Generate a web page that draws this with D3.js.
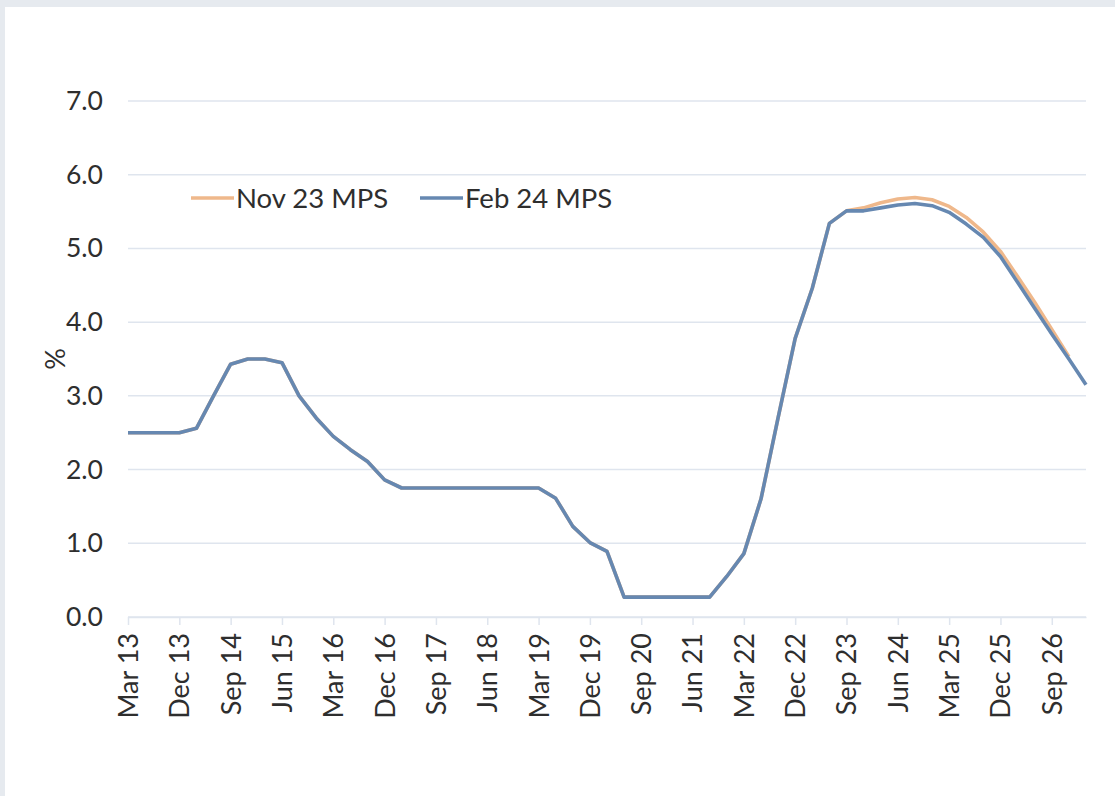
<!DOCTYPE html>
<html>
<head>
<meta charset="utf-8">
<script src="https://cdn.jsdelivr.net/npm/d3@7"></script>
<style>
  body { margin: 0; background: #e6eaef; }
  #chart { position: absolute; left: 5px; top: 7px; width: 1110px; height: 789px; background: #fff; }
  text { font-family: Lato, "Open Sans", sans-serif; fill: #2e2e2e; }
</style>
</head>
<body>
<div id="chart"></div>
<script>
// quarters on the category axis
var quarters = ["Mar 13","Jun 13","Sep 13","Dec 13","Mar 14","Jun 14","Sep 14","Dec 14",
  "Mar 15","Jun 15","Sep 15","Dec 15","Mar 16","Jun 16","Sep 16","Dec 16",
  "Mar 17","Jun 17","Sep 17","Dec 17","Mar 18","Jun 18","Sep 18","Dec 18",
  "Mar 19","Jun 19","Sep 19","Dec 19","Mar 20","Jun 20","Sep 20","Dec 20",
  "Mar 21","Jun 21","Sep 21","Dec 21","Mar 22","Jun 22","Sep 22","Dec 22",
  "Mar 23","Jun 23","Sep 23","Dec 23","Mar 24","Jun 24","Sep 24","Dec 24",
  "Mar 25","Jun 25","Sep 25","Dec 25","Mar 26","Jun 26","Sep 26","Dec 26","Mar 27"]

// shared history Mar 13 - Sep 23
var pastRates = [2.5, 2.5, 2.5, 2.5, 2.56, 3.0, 3.43, 3.5, 3.5, 3.45, 3.0, 2.7,
  2.45, 2.27, 2.11, 1.86, 1.75, 1.75, 1.75, 1.75, 1.75, 1.75, 1.75, 1.75,
  1.75, 1.61, 1.23, 1.01, 0.89, 0.27, 0.27, 0.27, 0.27, 0.27, 0.27, 0.55,
  0.86, 1.6, 2.7, 3.78, 4.46, 5.34, 5.51]

// forecasts from Dec 23
var nov23Forecast = [5.55, 5.62, 5.67, 5.69, 5.66, 5.57, 5.42, 5.22, 4.96, 4.62, 4.27, 3.90, 3.53]
var feb24Forecast = [5.51, 5.55, 5.59, 5.61, 5.58, 5.49, 5.33, 5.15, 4.89, 4.54, 4.19, 3.84, 3.50, 3.15]

var seriesNames = ["Nov 23 MPS", "Feb 24 MPS"]
var yTicks = [0, 1, 2, 3, 4, 5, 6, 7]

var nov23 = pastRates.concat(nov23Forecast)
var feb24 = pastRates.concat(feb24Forecast)

var width = 1110, height = 789
var svg = d3.select("#chart").append("svg")
  .attr("width", width).attr("height", height)

// plot area (chart coords are page coords minus 5,7)
var plot = {left: 123, right: 1081, top: 94, bottom: 610}

var x = d3.scalePoint()
  .domain(quarters)
  .range([plot.left, plot.right])

var y = d3.scaleLinear()
  .domain([0, 7])
  .range([plot.bottom, plot.top])

var color = d3.scaleOrdinal()
  .domain(seriesNames)
  .range(["#efb88b", "#6688b1"])

// gridlines
svg.append("g")
  .selectAll("line")
  .data(yTicks)
  .enter().append("line")
  .attr("x1", plot.left).attr("x2", plot.right)
  .attr("y1", function(d) { return y(d); })
  .attr("y2", function(d) { return y(d); })
  .attr("stroke", "#dfe5ee")
  .attr("stroke-width", 1.5)

// y axis labels
var yAxis = svg.append("g")
  .attr("transform", "translate(" + plot.left + ",0)")
  .call(d3.axisLeft(y).tickValues(yTicks).tickFormat(d3.format(".1f")).tickSize(0).tickPadding(25))
yAxis.select(".domain").remove()
yAxis.selectAll("text").style("font-size", "26.5px").attr("fill", "#2e2e2e")

svg.append("text")
  .attr("transform", "translate(60,352) rotate(-90)")
  .attr("text-anchor", "middle")
  .style("font-size", "27px")
  .text("%")

// x axis
var tickQuarters = quarters.filter(function(d, i) { return i % 3 == 0 && i < 56 })
var xAxis = svg.append("g")
  .attr("transform", "translate(0," + plot.bottom + ")")
  .call(d3.axisBottom(x).tickValues(tickQuarters).tickSize(8).tickSizeOuter(0).tickPadding(8))
xAxis.select(".domain").attr("stroke", "#dfe5ee").attr("stroke-width", 1.5)
xAxis.selectAll(".tick line").attr("stroke", "#dfe5ee").attr("stroke-width", 1.5)
xAxis.selectAll("text")
  .style("font-size", "27px")
  .attr("fill", "#2e2e2e")
  .attr("text-anchor", "end")
  .attr("transform", "rotate(-90)")
  .attr("x", -16)
  .attr("y", 0)
  .attr("dy", "0.35em")

// lines
var line = d3.line()
  .x(function(d, i) { return x(quarters[i]); })
  .y(function(d) { return y(d); })

svg.append("path")
  .attr("d", line(nov23))
  .attr("fill", "none")
  .attr("stroke", color("Nov 23 MPS"))
  .attr("stroke-width", 3.6)
  .attr("stroke-linejoin", "round")

svg.append("path")
  .attr("d", line(feb24))
  .attr("fill", "none")
  .attr("stroke", color("Feb 24 MPS"))
  .attr("stroke-width", 3.6)
  .attr("stroke-linejoin", "round")

// legend
var legend = svg.append("g")
  .selectAll("g")
  .data(seriesNames)
  .enter().append("g")
  .attr("transform", function(d, i) { return "translate(" + (186 + i * 229) + ",191)"; })
legend.append("line")
  .attr("x1", 0).attr("x2", 43)
  .attr("stroke", function(d) { return color(d); })
  .attr("stroke-width", 3.6)
legend.append("text")
  .attr("x", 45)
  .attr("dy", "0.35em")
  .style("font-size", "27.5px")
  .text(function(d) { return d; })
</script>
</body>
</html>
